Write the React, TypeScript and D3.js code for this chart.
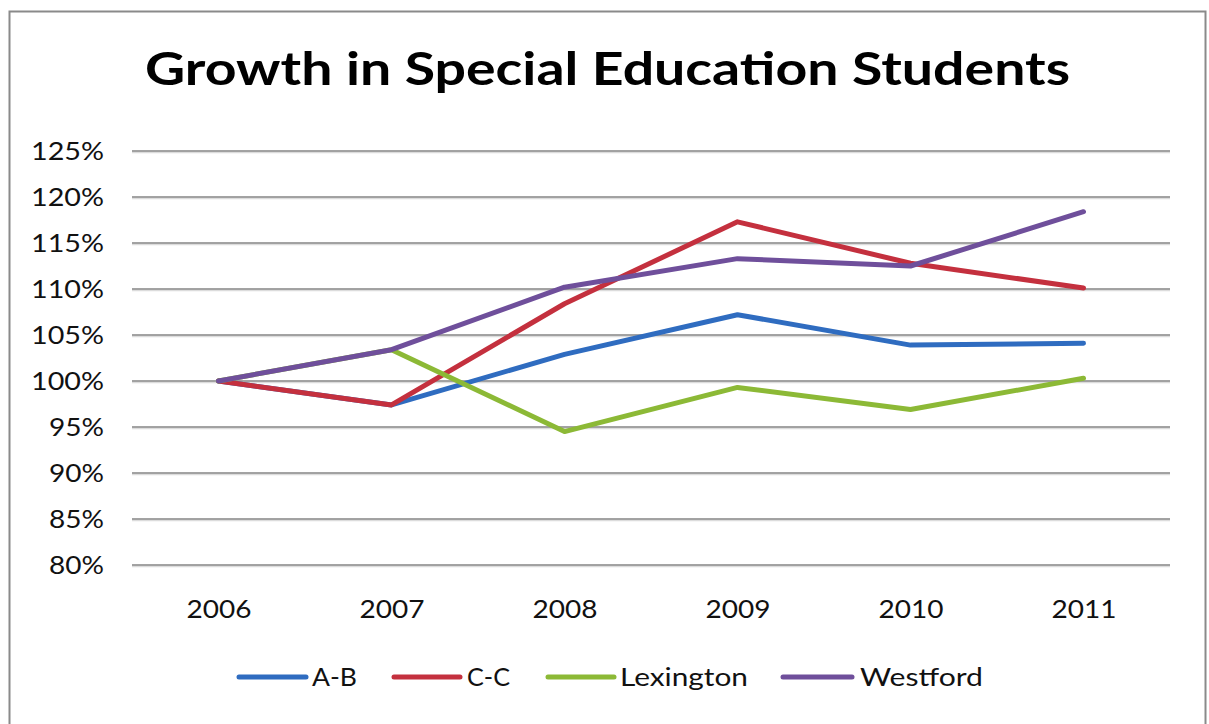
import React from "react";
import * as d3 from "d3";

const years = ["2006", "2007", "2008", "2009", "2010", "2011"];
const seriesNames = ["A-B", "C-C", "Lexington", "Westford"];
const abValues = [100, 97.4, 102.9, 107.2, 103.9, 104.1];
const ccValues = [100, 97.4, 108.4, 117.3, 112.8, 110.1];
const lexValues = [100, 103.4, 94.5, 99.3, 96.9, 100.3];
const westValues = [100, 103.4, 110.2, 113.3, 112.5, 118.4];
const yTicks = [80, 85, 90, 95, 100, 105, 110, 115, 120, 125];
const colors = ["#2f6cc0", "#c4303e", "#8cb936", "#6f4f9b"];
const title = "Growth in Special Education Students";

const W = 1209;
const H = 724;
const FONT = "Lato, 'Open Sans', sans-serif";

export default function App() {
  const x = d3.scalePoint<string>().domain(years).range([132, 1170]).padding(0.5);
  const y = d3.scaleLinear().domain([80, 125]).range([565, 151]);
  const all = [abValues, ccValues, lexValues, westValues];
  const line = d3
    .line<number>()
    .x((_, i) => x(years[i]) as number)
    .y((d) => y(d));

  const legendItems = [
    { x0: 239, x1: 306, tx: 312, w: 45 },
    { x0: 394, x1: 460, tx: 467, w: 43 },
    { x0: 548, x1: 614, tx: 620, w: 128 },
    { x0: 783, x1: 852, tx: 860, w: 123 },
  ];

  return (
    <svg
      width={W}
      height={H}
      style={{ position: "absolute", left: 0, top: 0, background: "#fff" }}
      fontFamily={FONT}
    >
      <rect x={9.5} y={11.5} width={1196} height={730} fill="#fff" stroke="#8a8a8a" strokeWidth={2} />
      <text
        x={145}
        y={85}
        fontSize={45}
        fontWeight="bold"
        fill="#000"
        textLength={925}
        lengthAdjust="spacingAndGlyphs"
      >
        {title}
      </text>
      {yTicks.map((t) => (
        <g key={t}>
          <line x1={132} x2={1170} y1={y(t) + 1.5} y2={y(t) + 1.5} stroke="#dcdcdc" strokeWidth={1.5} />
          <line x1={132} x2={1170} y1={y(t)} y2={y(t)} stroke="#858585" strokeWidth={1.6} />
          <text
            x={104}
            y={y(t)}
            dy="0.35em"
            textAnchor="end"
            fontSize={25}
            fill="#111"
            textLength={t >= 100 ? 73 : 55}
            lengthAdjust="spacingAndGlyphs"
          >
            {t}%
          </text>
        </g>
      ))}
      {years.map((yr) => (
        <text
          key={yr}
          x={(x(yr) as number) - 32}
          y={618}
          fontSize={25}
          fill="#111"
          textLength={65}
          lengthAdjust="spacingAndGlyphs"
        >
          {yr}
        </text>
      ))}
      {all.map((vals, i) => (
        <path
          key={seriesNames[i]}
          d={line(vals) || ""}
          fill="none"
          stroke={colors[i]}
          strokeWidth={5}
          strokeLinejoin="round"
          strokeLinecap="round"
        />
      ))}
      {seriesNames.map((name, i) => (
        <g key={name}>
          <line
            x1={legendItems[i].x0}
            x2={legendItems[i].x1}
            y1={677}
            y2={677}
            stroke={colors[i]}
            strokeWidth={5}
            strokeLinecap="round"
          />
          <text
            x={legendItems[i].tx}
            y={677}
            dy="0.35em"
            fontSize={25}
            fill="#111"
            textLength={legendItems[i].w}
            lengthAdjust="spacingAndGlyphs"
          >
            {name}
          </text>
        </g>
      ))}
    </svg>
  );
}
